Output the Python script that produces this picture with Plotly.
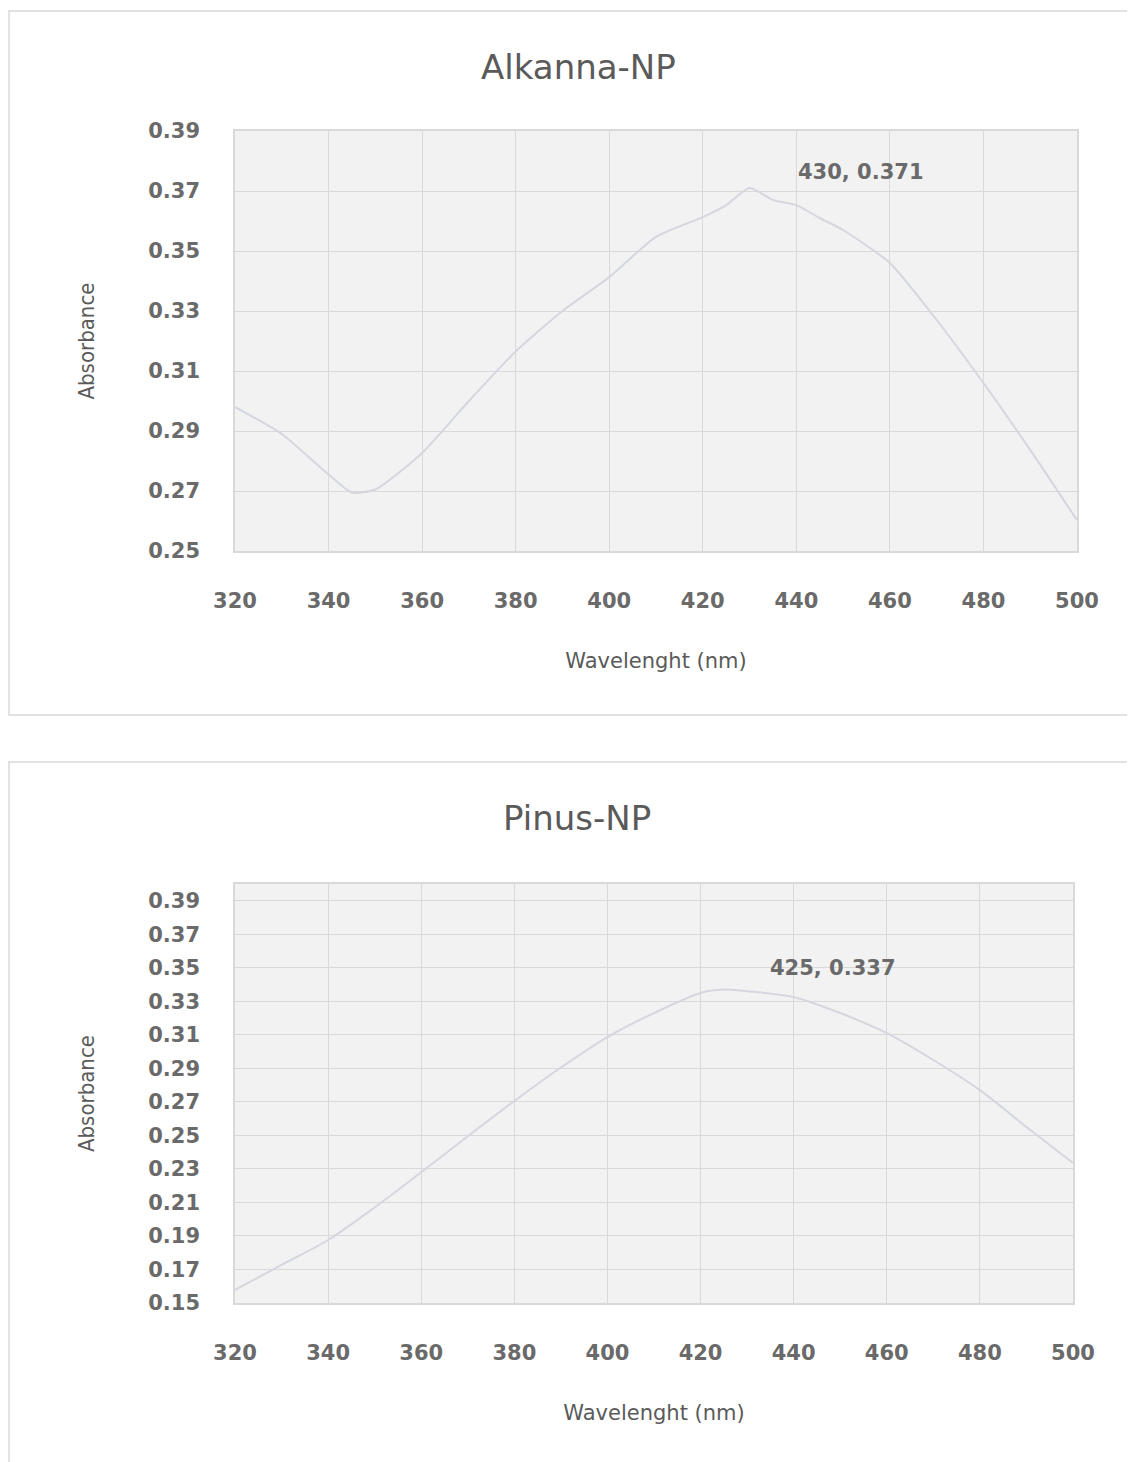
import plotly.graph_objects as go

# page body has an 8px margin: figure is drawn 8px in from the top-left
OFF = 8
W, H = 1135 - OFF, 1462 - OFF

wl_a = [320, 330, 340, 345, 350, 360, 370, 380, 390, 400, 410, 420, 425, 430, 435, 440, 445, 450, 460, 470, 480, 490, 500]
abs_a = [0.298, 0.289, 0.2755, 0.2695, 0.2705, 0.2827, 0.300, 0.3165, 0.330, 0.3413, 0.3547, 0.3613, 0.3653, 0.371, 0.367, 0.3653, 0.361, 0.357, 0.346, 0.327, 0.306, 0.2837, 0.2603]

wl_p = [320, 330, 340, 350, 360, 370, 380, 390, 400, 410, 420, 425, 430, 440, 450, 460, 470, 480, 490, 500]
abs_p = [0.1578, 0.1727, 0.1876, 0.2070, 0.228, 0.2495, 0.2705, 0.2905, 0.3087, 0.323, 0.335, 0.337, 0.336, 0.3326, 0.323, 0.311, 0.295, 0.277, 0.255, 0.2335]

x_ticks = [320, 340, 360, 380, 400, 420, 440, 460, 480, 500]
y_ticks_a = [0.25, 0.27, 0.29, 0.31, 0.33, 0.35, 0.37, 0.39]
y_ticks_p = [0.15, 0.17, 0.19, 0.21, 0.23, 0.25, 0.27, 0.29, 0.31, 0.33, 0.35, 0.37, 0.39]

peak_a = (430, 0.371)
peak_p = (425, 0.337)

TXT = "#5a5a5a"
TICK = "#6a6a6a"
GRID = "#d9d9d9"
LINE = "#d5d7de"
FONT = "DejaVu Sans"
NARROW = "Liberation Sans Narrow, DejaVu Sans Condensed"

fig = go.Figure()
fig.add_trace(go.Scatter(x=wl_a, y=abs_a, mode="lines", line=dict(color=LINE, width=2, shape="spline", smoothing=0.6),
                         xaxis="x", yaxis="y", showlegend=False))
fig.add_trace(go.Scatter(x=wl_p, y=abs_p, mode="lines", line=dict(color=LINE, width=2, shape="spline", smoothing=0.8),
                         xaxis="x2", yaxis="y2", showlegend=False))

def px(v):
    return (v - OFF) / W

def py(v):
    return 1 - (v - OFF) / H

tickfont = dict(family=FONT, size=21, color=TICK, weight="bold")
axis_common = dict(showgrid=True, gridcolor=GRID, gridwidth=1, showline=True, linecolor=GRID, linewidth=1.5,
                   mirror=True, zeroline=False, ticks="", automargin=False, tickfont=tickfont)
xtitle_font = dict(family=FONT, size=21, color=TXT)
ytitle_font = dict(family=NARROW, size=22, color=TXT)

fig.update_layout(
    template="none",
    width=W, height=H, margin=dict(l=0, r=0, t=0, b=0, autoexpand=False),
    paper_bgcolor="white", plot_bgcolor="#f2f2f2",
    xaxis=dict(domain=[px(235), px(1077)], range=[320, 500], tickvals=x_ticks, anchor="y",
               ticklabelstandoff=30,
               title=dict(text="Wavelenght (nm)", font=xtitle_font, standoff=41),
               **axis_common),
    yaxis=dict(domain=[py(551), py(131)], range=[0.25, 0.39], tickvals=y_ticks_a, tickformat=".2f", anchor="x",
               ticklabelstandoff=29,
               title=dict(text="Absorbance", font=ytitle_font, standoff=48),
               **axis_common),
    xaxis2=dict(domain=[px(235), px(1073)], range=[320, 500], tickvals=x_ticks, anchor="y2",
                ticklabelstandoff=30,
                title=dict(text="Wavelenght (nm)", font=xtitle_font, standoff=41),
                **axis_common),
    yaxis2=dict(domain=[py(1303), py(884)], range=[0.15, 0.40], tickvals=y_ticks_p, tickformat=".2f", anchor="x2",
                ticklabelstandoff=29,
                title=dict(text="Absorbance", font=ytitle_font, standoff=48),
                **axis_common),
)

# panel borders
fig.add_shape(type="rect", xref="paper", yref="paper", x0=px(9), x1=1.02, y0=py(715), y1=py(11),
              line=dict(color="#d9d9d9", width=1.5), fillcolor="rgba(0,0,0,0)", layer="below")
fig.add_shape(type="rect", xref="paper", yref="paper", x0=px(9), x1=1.02, y0=-0.02, y1=py(762),
              line=dict(color="#d9d9d9", width=1.5), fillcolor="rgba(0,0,0,0)", layer="below")

# titles
title_font = dict(family=FONT, size=34, color=TXT)
fig.add_annotation(text="Alkanna-NP", xref="paper", yref="paper", x=px(578), y=py(67), showarrow=False,
                   font=title_font, xanchor="center", yanchor="middle")
fig.add_annotation(text="Pinus-NP", xref="paper", yref="paper", x=px(577), y=py(818), showarrow=False,
                   font=title_font, xanchor="center", yanchor="middle")

# data labels
label_font = dict(family=FONT, size=21, color=TICK, weight="bold")
fig.add_annotation(text=f"{peak_a[0]}, {peak_a[1]}", x=peak_a[0], y=peak_a[1], xref="x", yref="y", showarrow=False,
                   xshift=111, yshift=16, font=label_font)
fig.add_annotation(text=f"{peak_p[0]}, {peak_p[1]}", x=peak_p[0], y=peak_p[1], xref="x2", yref="y2", showarrow=False,
                   xshift=109, yshift=22, font=label_font)

fig.write_html("out.html")
